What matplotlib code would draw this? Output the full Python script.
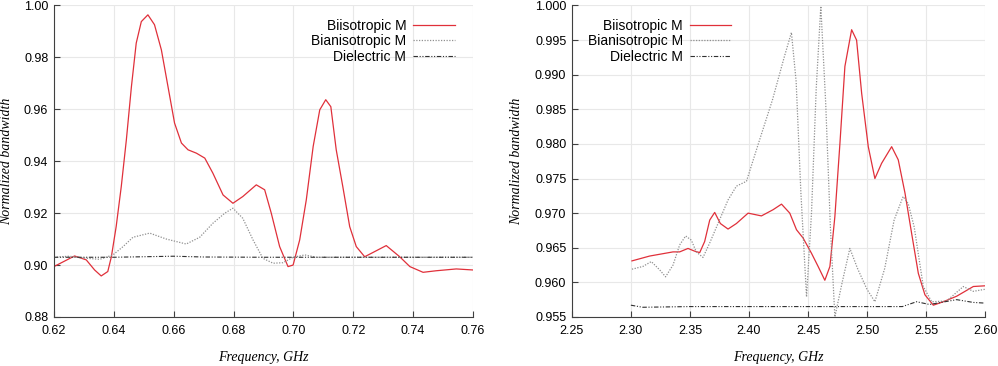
import matplotlib
matplotlib.use("Agg")
import matplotlib.pyplot as plt

# left panel, 0.62-0.76 GHz
f1_bi = [0.6200, 0.6269, 0.6308, 0.6336, 0.6358, 0.6380, 0.6392, 0.6408, 0.6425, 0.6442, 0.6459,
         0.6475, 0.6492, 0.6514, 0.6536, 0.6559, 0.6581, 0.6603, 0.6626, 0.6648, 0.6676, 0.6704,
         0.6731, 0.6765, 0.6798, 0.6831, 0.6876, 0.6904, 0.6926, 0.6954, 0.6982, 0.6999, 0.7021,
         0.7043, 0.7066, 0.7088, 0.7108, 0.7125, 0.7143, 0.7165, 0.7188, 0.7210, 0.7238, 0.7260,
         0.7310, 0.7355, 0.7389, 0.7433, 0.7477, 0.7544, 0.7600]
v1_bi = [0.8994, 0.9035, 0.9020, 0.8981, 0.8958, 0.8975, 0.9032, 0.9148, 0.9302, 0.9482, 0.9688,
         0.9855, 0.9938, 0.9964, 0.9926, 0.9829, 0.9688, 0.9547, 0.9470, 0.9444, 0.9431, 0.9412,
         0.9354, 0.9270, 0.9238, 0.9264, 0.9309, 0.9290, 0.9200, 0.9071, 0.8994, 0.9000, 0.9097,
         0.9251, 0.9457, 0.9598, 0.9637, 0.9610, 0.9444, 0.9302, 0.9148, 0.9071, 0.9032, 0.9045,
         0.9075, 0.9032, 0.8994, 0.8972, 0.8978, 0.8985, 0.8981]

f1_ban = [0.6200, 0.6250, 0.6300, 0.6353, 0.6397, 0.6431, 0.6464, 0.6520, 0.6576, 0.6642, 0.6687,
          0.6731, 0.6771, 0.6798, 0.6831, 0.6865, 0.6898, 0.6932, 0.6965, 0.6999, 0.7038, 0.7077,
          0.7200, 0.7600]
v1_ban = [0.9030, 0.9034, 0.9027, 0.9022, 0.9039, 0.9071, 0.9107, 0.9123, 0.9100, 0.9081, 0.9107,
          0.9161, 0.9200, 0.9219, 0.9180, 0.9097, 0.9026, 0.9007, 0.9009, 0.9030, 0.9039, 0.9030,
          0.9030, 0.9030]

f1_die = [0.620, 0.640, 0.650, 0.660, 0.670, 0.690, 0.720, 0.760]
v1_die = [0.9030, 0.9030, 0.9032, 0.9034, 0.9031, 0.9030, 0.9030, 0.9030]

# right panel, 2.30-2.60 GHz
f2_bi = [2.3009, 2.3159, 2.3357, 2.3413, 2.3484, 2.3541, 2.3583, 2.3625, 2.3668, 2.3710, 2.3758,
         2.3823, 2.3894, 2.3993, 2.4106, 2.4205, 2.4276, 2.4346, 2.4403, 2.4459, 2.4530, 2.4586,
         2.4643, 2.4686, 2.4728, 2.4771, 2.4813, 2.4870, 2.4912, 2.4955, 2.5011, 2.5067, 2.5124,
         2.5209, 2.5265, 2.5322, 2.5378, 2.5435, 2.5491, 2.5562, 2.5647, 2.5760, 2.5901, 2.6000]
v2_bi = [0.9631, 0.9638, 0.9644, 0.9644, 0.9649, 0.9645, 0.9643, 0.9659, 0.9690, 0.9701, 0.9685,
         0.9677, 0.9685, 0.9700, 0.9696, 0.9705, 0.9713, 0.9700, 0.9676, 0.9664, 0.9642, 0.9623,
         0.9603, 0.9623, 0.9695, 0.9801, 0.9912, 0.9965, 0.9950, 0.9873, 0.9796, 0.9750, 0.9772,
         0.9796, 0.9777, 0.9729, 0.9671, 0.9613, 0.9582, 0.9567, 0.9572, 0.9580, 0.9594, 0.9595]

f2_ban = [2.3009, 2.3102, 2.3173, 2.3244, 2.3294, 2.3357, 2.3413, 2.3464, 2.3512, 2.3554, 2.3611,
          2.3668, 2.3738, 2.3823, 2.3894, 2.3979, 2.4100, 2.4200, 2.4300, 2.4360, 2.4400, 2.4440,
          2.4488, 2.4530, 2.4570, 2.4609, 2.4650, 2.4690, 2.4728, 2.4790, 2.4855, 2.4920, 2.5000,
          2.5067, 2.5150, 2.5230, 2.5306, 2.5349, 2.5400, 2.5477, 2.5548, 2.5675, 2.5816, 2.5901,
          2.6000]
v2_ban = [0.9619, 0.9623, 0.9630, 0.9618, 0.9608, 0.9625, 0.9654, 0.9667, 0.9661, 0.9644, 0.9636,
          0.9657, 0.9685, 0.9719, 0.9739, 0.9746, 0.9811, 0.9864, 0.9926, 0.9961, 0.9890, 0.9730,
          0.9579, 0.9700, 0.9880, 0.9999, 0.9860, 0.9680, 0.9550, 0.9600, 0.9649, 0.9620, 0.9590,
          0.9572, 0.9620, 0.9690, 0.9724, 0.9714, 0.9680, 0.9594, 0.9572, 0.9573, 0.9594, 0.9587,
          0.9590]

f2_die = [2.300, 2.310, 2.350, 2.400, 2.450, 2.500, 2.530, 2.542, 2.553, 2.576, 2.590, 2.600]
v2_die = [0.9567, 0.9564, 0.9565, 0.9565, 0.9565, 0.9565, 0.9565, 0.9572, 0.9568, 0.9575, 0.9571,
          0.9570]

labels = ["Biisotropic M", "Bianisotropic M", "Dielectric M"]

fig = plt.figure(figsize=(9.98, 3.66), dpi=100)
ax1 = fig.add_axes([0.054, 0.134, 0.420, 0.851])
ax2 = fig.add_axes([0.573, 0.134, 0.414, 0.851])

tickfont = {"family": "Liberation Sans", "size": 9}
labfont = {"family": "Liberation Serif", "style": "italic", "size": 10}

def style(ax, xlim, ylim, xt, yt, yfmt, ylab_x):
    ax.set_xlim(*xlim)
    ax.set_ylim(*ylim)
    ax.set_xticks(xt)
    ax.set_yticks(yt)
    ax.set_xticklabels(["%.2f" % x for x in xt], fontdict=tickfont)
    ax.set_yticklabels([yfmt % y for y in yt], fontdict=tickfont)
    ax.grid(True, color="#e8e8e8", lw=0.8)
    ax.set_axisbelow(True)
    for s in ["top", "right"]:
        ax.spines[s].set_visible(False)
    for s in ["left", "bottom"]:
        ax.spines[s].set_color("#404040")
        ax.spines[s].set_linewidth(0.8)
    ax.tick_params(direction="in", length=4, color="#404040")
    ax.tick_params(axis="y", pad=4)
    ax.tick_params(axis="x", pad=6)
    ax.set_xlabel("Frequency, GHz", fontdict=labfont, labelpad=10)
    ax.set_ylabel("Normalized bandwidth", fontdict=labfont)
    ax.yaxis.set_label_coords(ylab_x, 0.5)

def draw(ax, d, loc, anchor):
    ax.plot(d[0], d[1], color="#e0303a", lw=0.9, label=labels[0])
    ax.plot(d[2], d[3], color="#909090", lw=0.9, ls=(0, (1, 1.2)), label=labels[1])
    ax.plot(d[4], d[5], color="#303030", lw=0.8, ls=(0, (4, 1.5, 1, 1.5, 1, 1.5)), label=labels[2])
    ax.legend(loc=loc, bbox_to_anchor=anchor, frameon=False, markerfirst=False,
              prop={"family": "Liberation Sans", "size": 10}, handlelength=3.0,
              labelspacing=0.1, borderaxespad=0, handletextpad=0.5)

draw(ax1, [f1_bi, v1_bi, f1_ban, v1_ban, f1_die, v1_die], "upper right", (0.97, 0.975))
draw(ax2, [f2_bi, v2_bi, f2_ban, v2_ban, f2_die, v2_die], "upper left", (0.025, 0.975))

style(ax1, (0.62, 0.76), (0.88, 1.00), [0.62 + 0.02 * i for i in range(8)],
      [0.88 + 0.02 * i for i in range(7)], "%.2f", -0.097)
style(ax2, (2.25, 2.60), (0.955, 1.000), [2.25 + 0.05 * i for i in range(8)],
      [0.955 + 0.005 * i for i in range(10)], "%.3f", -0.118)

fig.savefig("out.png", dpi=100)
